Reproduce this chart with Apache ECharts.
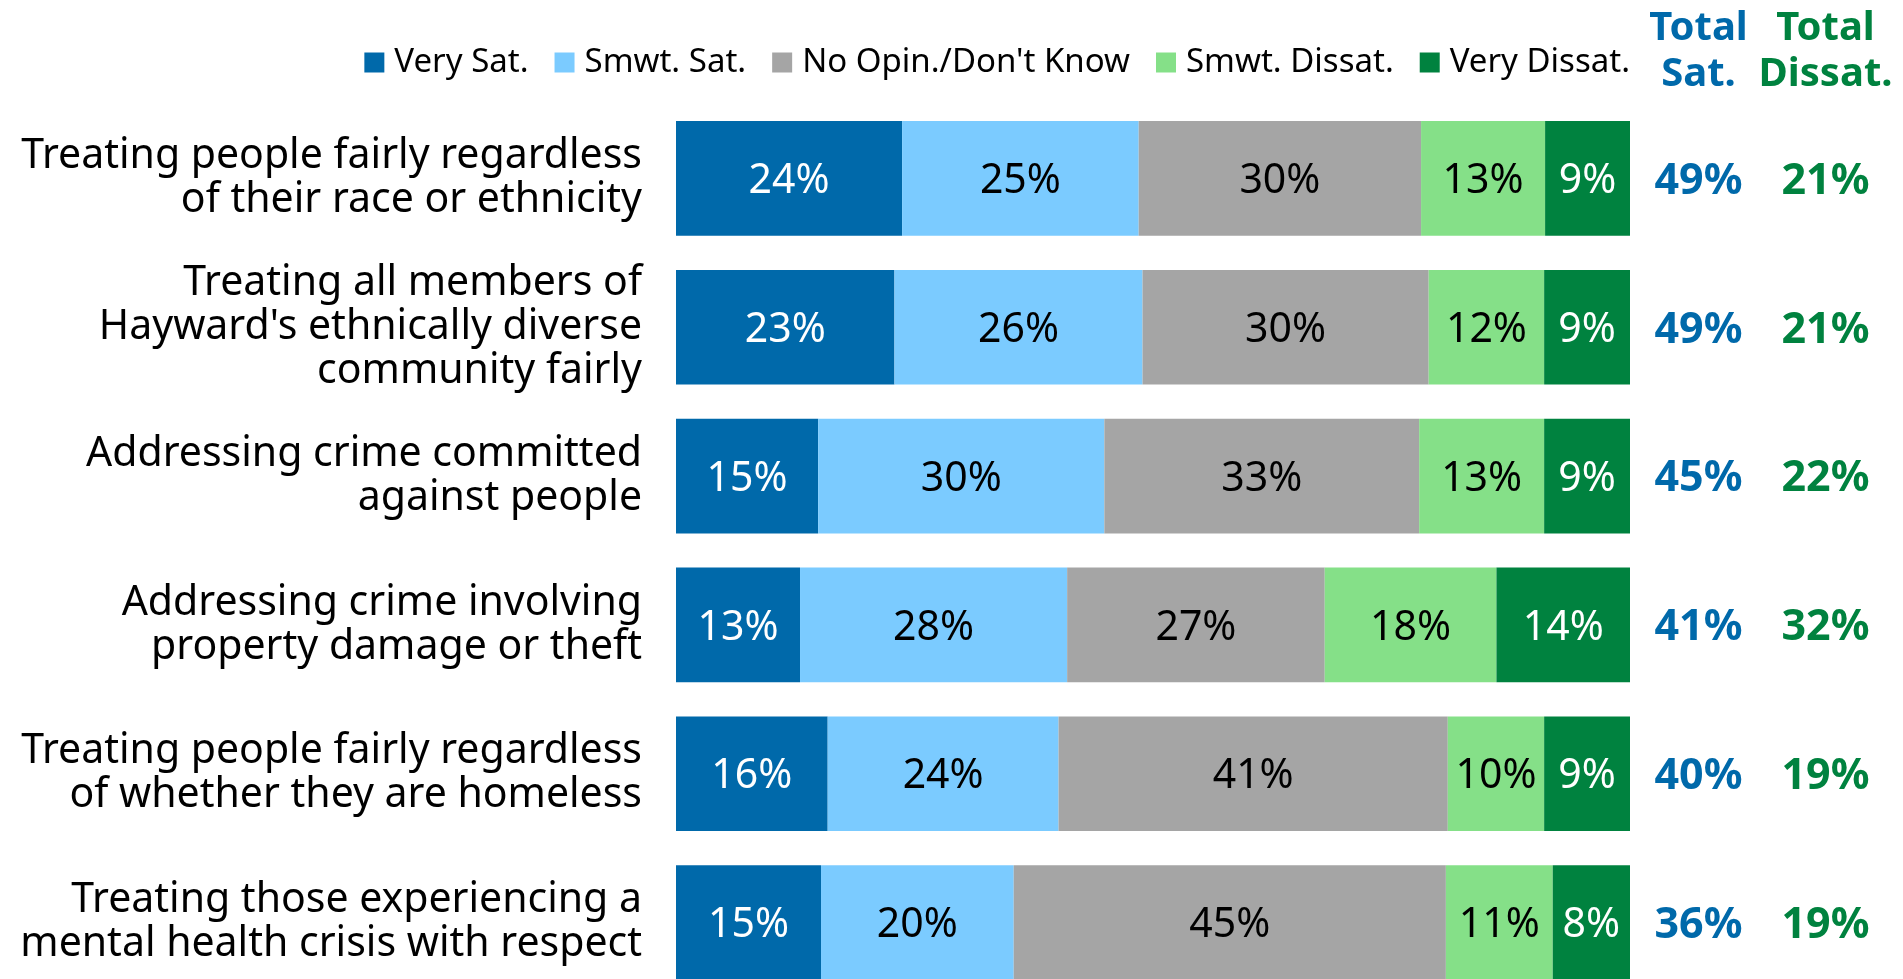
<!DOCTYPE html>
<html>
<head>
<meta charset="utf-8">
<script src="https://cdn.jsdelivr.net/npm/echarts@6/dist/echarts.min.js"></script>
<style>
  html, body { margin: 0; padding: 0; background: #fff; overflow: hidden; }
  /* taller than the window: the last bar runs off the bottom edge, as in the source */
  #chart { width: 1903px; height: 1000px; }
</style>
</head>
<body>
<div id="chart"></div>
<script>
  // data (segment widths, labels shown rounded)
  var categories = [
    'Treating people fairly regardless\nof their race or ethnicity',
    "Treating all members of\nHayward's ethnically diverse\ncommunity fairly",
    'Addressing crime committed\nagainst people',
    'Addressing crime involving\nproperty damage or theft',
    'Treating people fairly regardless\nof whether they are homeless',
    'Treating those experiencing a\nmental health crisis with respect'
  ]
  var seriesNames = ['Very Sat.', 'Smwt. Sat.', "No Opin./Don't Know", 'Smwt. Dissat.', 'Very Dissat.']
  var verySat = [23.7, 22.9, 14.9, 13.0, 15.9, 15.2]
  var smwtSat = [24.8, 26.0, 30.0, 28.0, 24.2, 20.2]
  var noOpinion = [29.6, 30.0, 33.0, 27.0, 40.8, 45.3]
  var smwtDissat = [13.0, 12.1, 13.1, 18.0, 10.1, 11.2]
  var veryDissat = [8.9, 9.0, 9.0, 14.0, 9.0, 8.1]
  var totalSat = [49, 49, 45, 41, 40, 36]
  var totalDissat = [21, 21, 22, 32, 19, 19]
  var totalHeaders = ['Total\nSat.', 'Total\nDissat.']

  var FONT = '"Noto Sans", "Open Sans", sans-serif'
  var BLUE = '#0069aa'
  var GREEN = '#00823f'
  var colors = [BLUE, '#7bcbff', '#a5a5a5', '#85e088', GREEN]
  var labelColors = ['#fff', '#000', '#000', '#000', '#fff']
  var values = [verySat, smwtSat, noOpinion, smwtDissat, veryDissat]

  var barSeries = seriesNames.map(function (name, i) {
    return {
      name: name,
      type: 'bar',
      stack: 'all',
      barCategoryGap: '23%',
      itemStyle: { color: colors[i] },
      label: {
        show: true,
        position: 'inside',
        offset: [0, 3],
        color: labelColors[i],
        fontFamily: FONT,
        fontSize: 41,
        formatter: function (p) { return Math.round(p.value) + '%' }
      },
      data: values[i]
    }
  })

  // totals columns drawn in a second grid
  function totalSeries(list, col, color) {
    return {
      type: 'scatter',
      xAxisIndex: 1,
      yAxisIndex: 1,
      symbolSize: 1,
      itemStyle: { color: 'rgba(0,0,0,0)', opacity: 1 },
      label: {
        show: true,
        position: 'inside',
        offset: [0, 3],
        color: color,
        fontFamily: FONT,
        fontWeight: 'bold',
        fontSize: 43,
        formatter: function (p) { return p.value[2] + '%' }
      },
      data: list.map(function (v, r) { return [col, r, v] })
    }
  }

  var option = {
    animation: false,
    legend: {
      data: seriesNames,
      right: 268,
      top: 41,
      icon: 'rect',
      itemWidth: 20,
      itemHeight: 20,
      itemGap: 26,
      textStyle: { fontFamily: FONT, fontSize: 33, color: '#000', padding: [0, 0, 0, 5] }
    },
    grid: [
      { left: 676, width: 954, top: 104, height: 893 },
      { left: 1635, width: 254, top: 104, height: 893 }
    ],
    xAxis: [
      { type: 'value', min: 0, max: 100, show: false },
      {
        type: 'category',
        gridIndex: 1,
        position: 'top',
        data: totalHeaders,
        axisLine: { show: false },
        axisTick: { show: false },
        axisLabel: {
          margin: 6,
          formatter: function (v, i) { return v.split('\n').map(function (s) { return (i ? '{d|' : '{s|') + s + '}' }).join('\n') },
          rich: {
            s: { color: BLUE, fontFamily: FONT, fontWeight: 'bold', fontSize: 40, lineHeight: 46 },
            d: { color: GREEN, fontFamily: FONT, fontWeight: 'bold', fontSize: 40, lineHeight: 46 }
          }
        }
      }
    ],
    yAxis: [
      {
        type: 'category',
        inverse: true,
        data: categories,
        axisLine: { show: false },
        axisTick: { show: false },
        axisLabel: {
          margin: 34,
          color: '#000',
          fontFamily: FONT,
          fontSize: 41,
          lineHeight: 44,
          padding: [0, 0, 8, 0],
          align: 'right'
        }
      },
      { type: 'category', gridIndex: 1, inverse: true, data: categories, show: false }
    ],
    series: barSeries.concat([
      totalSeries(totalSat, 0, BLUE),
      totalSeries(totalDissat, 1, GREEN)
    ])
  }

  var chart = echarts.init(document.getElementById('chart'))
  chart.setOption(option)
</script>
</body>
</html>
